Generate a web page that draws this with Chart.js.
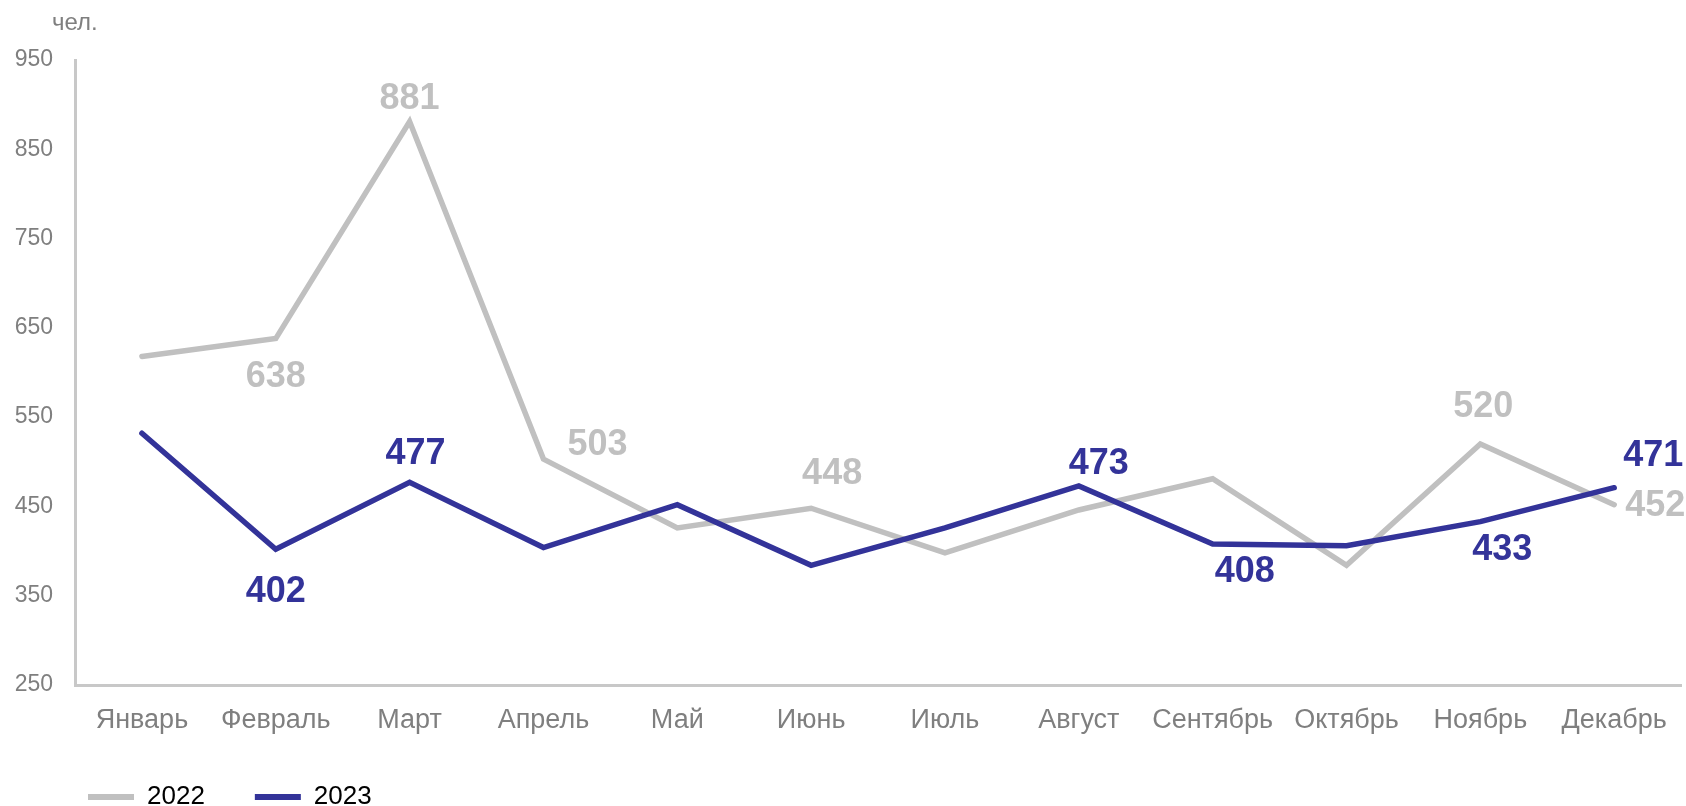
<!DOCTYPE html>
<html><head><meta charset="utf-8">
<script src="https://cdn.jsdelivr.net/npm/chart.js@4.4.0/dist/chart.umd.min.js"></script>
<style>html,body{margin:0;padding:0;background:#fff;}#wrap{width:1686px;height:806px;position:relative;}</style>
</head><body><div id="wrap"><canvas id="c" width="1686" height="806"></canvas></div>
<script>
const categories = ['Январь','Февраль','Март','Апрель','Май','Июнь','Июль','Август','Сентябрь','Октябрь','Ноябрь','Декабрь'];
const seriesNames = ['2022', '2023'];
const values2022 = [618, 638, 881, 503, 426, 448, 398, 446, 481, 384, 520, 452];
const values2023 = [532, 402, 477, 404, 452, 384, 426, 473, 408, 406, 433, 471];
const yTicks = [250, 350, 450, 550, 650, 750, 850, 950];
const yUnit = 'чел.';

// label placement (style): index -> [dx, dy] from the point
const labelOffsets = [
  {1:[0,35], 2:[0,-26], 3:[54,-17], 5:[21,-37], 10:[3,-40], 11:[41,-2]},
  {1:[0,40], 2:[6,-31], 7:[20,-25], 8:[32,25], 10:[22,25], 11:[39,-35]}
];

const FONT = '"Liberation Sans", Arial, sans-serif';
Chart.defaults.font.family = FONT;

const valueLabels = {
  id: 'valueLabels',
  afterDatasetsDraw(chart) {
    const ctx = chart.ctx;
    chart.data.datasets.forEach((ds, di) => {
      const meta = chart.getDatasetMeta(di);
      const offs = labelOffsets[di];
      Object.keys(offs).forEach(k => {
        const i = +k, pt = meta.data[i];
        ctx.save();
        ctx.font = 'bold 36px ' + FONT;
        ctx.fillStyle = ds.borderColor;
        ctx.textAlign = 'center';
        ctx.textBaseline = 'alphabetic';
        ctx.fillText(String(ds.data[i]), pt.x + offs[i][0], pt.y + offs[i][1] + 13);
        ctx.restore();
      });
    });
  }
};

const unitLabel = {
  id: 'unitLabel',
  afterLayout(chart) {
    if (chart.legend) chart.legend.left = 38;
  },
  afterDraw(chart) {
    const ctx = chart.ctx;
    ctx.save();
    ctx.font = '24px ' + FONT;
    ctx.fillStyle = '#7f7f7f';
    ctx.textAlign = 'left';
    ctx.textBaseline = 'alphabetic';
    ctx.fillText(yUnit, 52, 30);
    ctx.restore();
  }
};

new Chart(document.getElementById('c'), {
  type: 'line',
  data: {
    labels: categories,
    datasets: [
      {label: seriesNames[0], data: values2022, borderColor: '#c0c0c0', backgroundColor: '#c0c0c0',
       borderWidth: 5.5, pointRadius: 0, tension: 0, fill: false, order: 2,
       borderJoinStyle: 'miter', borderCapStyle: 'round'},
      {label: seriesNames[1], data: values2023, borderColor: '#333399', backgroundColor: '#333399',
       borderWidth: 5.5, pointRadius: 0, tension: 0, fill: false, order: 1,
       borderJoinStyle: 'miter', borderCapStyle: 'round'}
    ]
  },
  options: {
    responsive: false,
    animation: false,
    layout: {padding: {top: 60, left: 0, right: 4, bottom: 0}},
    plugins: {
      tooltip: {enabled: false},
      legend: {
        position: 'bottom', align: 'start', maxHeight: 72,
        labels: {
          boxWidth: 46, boxHeight: 6, padding: 50, color: '#262626',
          font: {size: 26, family: FONT},
          generateLabels: chart => chart.data.datasets.map((ds, i) => ({
            text: ds.label, fillStyle: ds.borderColor, strokeStyle: ds.borderColor,
            lineWidth: 0, hidden: false, datasetIndex: i
          }))
        }
      }
    },
    scales: {
      x: {
        offset: true,
        grid: {display: false, drawTicks: false},
        border: {display: true, color: '#c8c8c8', width: 3},
        ticks: {padding: 19, color: '#7f7f7f', font: {size: 27}, maxRotation: 0, autoSkip: false},
        afterFit: s => { s.height = 49; }
      },
      y: {
        min: 250, max: 950,
        grid: {display: false, drawTicks: false},
        border: {display: true, color: '#c8c8c8', width: 3},
        ticks: {padding: 22, color: '#7f7f7f', font: {size: 23}},
        afterBuildTicks: s => { s.ticks = yTicks.map(v => ({value: v})); },
        afterFit: s => { s.width = 75; }
      }
    }
  },
  plugins: [valueLabels, unitLabel]
});
</script>
</body></html>
